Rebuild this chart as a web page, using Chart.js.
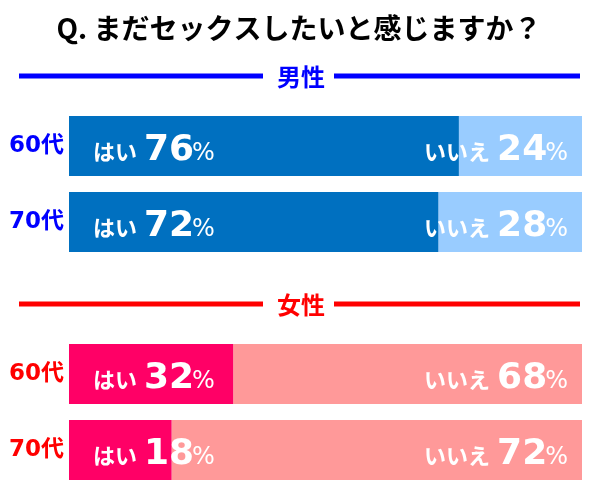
<!DOCTYPE html>
<html lang="ja">
<head>
<meta charset="utf-8">
<title>まだセックスしたいと感じますか？</title>
<script src="https://cdn.jsdelivr.net/npm/chart.js@4.4.1/dist/chart.umd.min.js"></script>
<style>
  html, body { margin: 0; padding: 0; background: #fff; }
  #wrap { width: 600px; height: 495px; position: relative; }
</style>
</head>
<body>
<div id="wrap"><canvas id="chart"></canvas></div>
<script>
// data ........................................................................
const title = 'Q. まだセックスしたいと感じますか？';
const groups = ['男性', '女性'];
const ages = ['60代', '70代'];
// bar lengths as drawn (%)
const yesShare = [76, 72, 32, 20];
const noShare = [24, 28, 68, 80];
// numbers printed on the bars
const yesText = [76, 72, 32, 18];
const noText = [24, 28, 68, 72];

const groupColor = ['#0000FF', '#FF0000'];
const yesColor = ['#0070C0', '#FF0066'];
const noColor = ['#99CCFF', '#FF9999'];

const JP = "'Noto Sans CJK JP', 'DejaVu Sans', sans-serif";
const NUM = "'DejaVu Sans', 'Noto Sans CJK JP', sans-serif";

// one header slot per group, then one slot per age row
let labels = [], yesData = [], noData = [], slots = [];
groups.forEach((g, gi) => {
  labels.push('');
  yesData.push(null);
  noData.push(null);
  slots.push({ group: gi, row: -1 });
  ages.forEach((a, ai) => {
    const r = gi * ages.length + ai;
    labels.push(a);
    yesData.push(yesShare[r]);
    noData.push(noShare[r]);
    slots.push({ group: gi, row: r });
  });
});

// title, group headers and bar texts ...........................................
const decorPlugin = {
  id: 'decor',
  afterDatasetsDraw(chart) {
    const ctx = chart.ctx;
    const yScale = chart.scales.y;
    const yesMeta = chart.getDatasetMeta(0);
    const noMeta = chart.getDatasetMeta(1);
    ctx.save();

    ctx.fillStyle = '#000';
    ctx.textAlign = 'center';
    ctx.textBaseline = 'middle';
    ctx.font = 'bold 28px ' + JP;
    ctx.fillText(title, 299, 28);

    slots.forEach((s, i) => {
      if (s.row >= 0) return;
      const y = yScale.getPixelForValue(i) + 6;
      ctx.fillStyle = groupColor[s.group];
      ctx.fillRect(19, y - 2.5, 244, 5);
      ctx.fillRect(334, y - 2.5, 246, 5);
      ctx.font = 'bold 24px ' + JP;
      ctx.textAlign = 'center';
      ctx.textBaseline = 'middle';
      ctx.fillText(groups[s.group], 301, y + 1);
    });

    ctx.fillStyle = '#fff';
    ctx.textBaseline = 'alphabetic';
    slots.forEach((s, i) => {
      if (s.row < 0) return;
      const yb = yesMeta.data[i], nb = noMeta.data[i];
      const y = yb.y + 13.5;

      // はい xx%
      ctx.textAlign = 'left';
      let x = yb.base + 24;
      ctx.font = 'bold 22px ' + JP;
      ctx.fillText('はい', x, y);
      x += ctx.measureText('はい').width + 7;
      ctx.font = 'bold 36px ' + NUM;
      ctx.fillText(String(yesText[s.row]), x, y);
      x += ctx.measureText(String(yesText[s.row])).width - 2;
      ctx.font = '24px ' + NUM;
      ctx.fillText('%', x, y);

      // いいえ xx%
      ctx.textAlign = 'right';
      let xr = nb.x - 14;
      ctx.font = '24px ' + NUM;
      ctx.fillText('%', xr, y);
      xr -= ctx.measureText('%').width - 2;
      ctx.font = 'bold 36px ' + NUM;
      ctx.fillText(String(noText[s.row]), xr, y);
      xr -= ctx.measureText(String(noText[s.row])).width + 7;
      ctx.font = 'bold 22px ' + JP;
      ctx.fillText('いいえ', xr, y);
    });
    ctx.restore();
  }
};

// chart .......................................................................
const ctx = document.getElementById('chart');
new Chart(ctx, {
  type: 'bar',
  data: {
    labels: labels,
    datasets: [{
      label: 'はい',
      data: yesData,
      backgroundColor: c => yesColor[slots[c.dataIndex].group]
    }, {
      label: 'いいえ',
      data: noData,
      backgroundColor: c => noColor[slots[c.dataIndex].group]
    }]
  },
  options: {
    indexAxis: 'y',
    responsive: true,
    maintainAspectRatio: false,
    animation: false,
    layout: { padding: { top: 32, right: 18, bottom: 7, left: 0 } },
    datasets: { bar: { barPercentage: 60 / 76, categoryPercentage: 1 } },
    scales: {
      x: { display: false, stacked: true, min: 0, max: 100 },
      y: {
        stacked: true,
        grid: { display: false, drawTicks: false },
        border: { display: false },
        ticks: {
          padding: 5,
          font: { family: NUM, size: 23, weight: 'bold' },
          color: c => groupColor[slots[c.index] ? slots[c.index].group : 0]
        },
        afterFit(scale) {
          scale.width = 69;
          scale.paddingTop = 0;
          scale.paddingBottom = 0;
        }
      }
    },
    plugins: {
      legend: { display: false },
      tooltip: { enabled: false }
    }
  },
  plugins: [decorPlugin]
});
</script>
</body>
</html>
